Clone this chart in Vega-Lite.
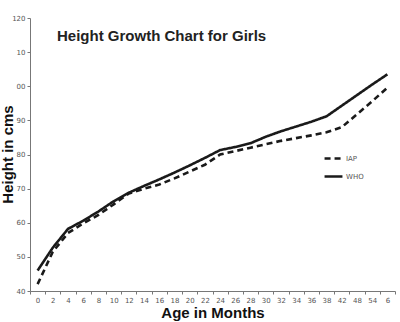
{
  "$schema": "https://vega.github.io/schema/vega-lite/v6.json",
  "width": 365,
  "height": 273,
  "autosize": {"type": "none"},
  "padding": {"left": 30, "top": 18, "right": 5, "bottom": 31},
  "background": "white",
  "title": {
    "text": "Height Growth Chart for Girls",
    "frame": "group",
    "anchor": "start",
    "dx": 27,
    "dy": 30,
    "offset": 0,
    "font": "Liberation Sans",
    "fontSize": 15,
    "fontWeight": "bold",
    "color": "#222"
  },
  "config": {
    "view": {"stroke": null},
    "font": "Liberation Sans"
  },
  "data": {
    "values": [
      {"month": 0, "series": "WHO", "height": 46},
      {"month": 2, "series": "WHO", "height": 52.7},
      {"month": 4, "series": "WHO", "height": 58.2},
      {"month": 6, "series": "WHO", "height": 60.6},
      {"month": 8, "series": "WHO", "height": 63.3},
      {"month": 10, "series": "WHO", "height": 66.3},
      {"month": 12, "series": "WHO", "height": 68.8},
      {"month": 14, "series": "WHO", "height": 70.8},
      {"month": 16, "series": "WHO", "height": 72.7},
      {"month": 18, "series": "WHO", "height": 74.7},
      {"month": 20, "series": "WHO", "height": 76.8},
      {"month": 22, "series": "WHO", "height": 79},
      {"month": 24, "series": "WHO", "height": 81.3},
      {"month": 26, "series": "WHO", "height": 82.2},
      {"month": 28, "series": "WHO", "height": 83.3},
      {"month": 30, "series": "WHO", "height": 85.2},
      {"month": 32, "series": "WHO", "height": 86.8},
      {"month": 34, "series": "WHO", "height": 88.2},
      {"month": 36, "series": "WHO", "height": 89.6},
      {"month": 38, "series": "WHO", "height": 91.2},
      {"month": 42, "series": "WHO", "height": 94.3},
      {"month": 48, "series": "WHO", "height": 97.4},
      {"month": 54, "series": "WHO", "height": 100.5},
      {"month": 60, "series": "WHO", "height": 103.5},
      {"month": 0, "series": "IAP", "height": 42},
      {"month": 2, "series": "IAP", "height": 51.5},
      {"month": 4, "series": "IAP", "height": 57},
      {"month": 6, "series": "IAP", "height": 59.8},
      {"month": 8, "series": "IAP", "height": 62.3},
      {"month": 10, "series": "IAP", "height": 65.4},
      {"month": 12, "series": "IAP", "height": 68.6},
      {"month": 14, "series": "IAP", "height": 70},
      {"month": 16, "series": "IAP", "height": 71.2},
      {"month": 18, "series": "IAP", "height": 73},
      {"month": 20, "series": "IAP", "height": 75},
      {"month": 22, "series": "IAP", "height": 77},
      {"month": 24, "series": "IAP", "height": 80},
      {"month": 26, "series": "IAP", "height": 81},
      {"month": 28, "series": "IAP", "height": 82},
      {"month": 30, "series": "IAP", "height": 83},
      {"month": 32, "series": "IAP", "height": 84},
      {"month": 34, "series": "IAP", "height": 84.8},
      {"month": 36, "series": "IAP", "height": 85.6},
      {"month": 38, "series": "IAP", "height": 86.5},
      {"month": 42, "series": "IAP", "height": 88},
      {"month": 48, "series": "IAP", "height": 91.8},
      {"month": 54, "series": "IAP", "height": 95.6},
      {"month": 60, "series": "IAP", "height": 99.6}
    ]
  },
  "mark": {"type": "line", "color": "#1a1a1a", "strokeWidth": 2.6},
  "encoding": {
    "x": {
      "field": "month",
      "type": "ordinal",
      "scale": {"type": "band", "paddingInner": 0, "paddingOuter": 0},
      "axis": {
        "title": "Age in Months",
        "titleFont": "Liberation Sans",
        "titleFontSize": 15,
        "titleFontWeight": "bold",
        "titleColor": "#111",
        "titleBaseline": "alphabetic",
        "titleY": 26.5,
        "labelAngle": 0,
        "labelFont": "DejaVu Sans",
        "labelFontSize": 7,
        "labelColor": "#555",
        "labelPadding": 2,
        "tickBand": "extent",
        "tickSize": 3,
        "tickColor": "#777",
        "domainColor": "#777",
        "labelExpr": "datum.value == 60 ? '6' : datum.label"
      }
    },
    "y": {
      "field": "height",
      "type": "quantitative",
      "scale": {"domain": [40, 120], "nice": false, "zero": false},
      "axis": {
        "title": "Height in cms",
        "titleFont": "Liberation Sans",
        "titleFontSize": 15,
        "titleFontWeight": "bold",
        "titleColor": "#111",
        "titleBaseline": "middle",
        "titleX": -23,
        "titleY": 136,
        "values": [40, 50, 60, 70, 80, 90, 100, 110, 120],
        "grid": false,
        "labelFont": "DejaVu Sans",
        "labelFontSize": 7,
        "labelColor": "#555",
        "labelPadding": 2,
        "tickSize": 3,
        "tickColor": "#777",
        "domainColor": "#777",
        "labelExpr": "datum.value == 110 ? '10' : datum.value == 100 ? '00' : datum.label"
      }
    },
    "strokeDash": {
      "field": "series",
      "type": "nominal",
      "scale": {"domain": ["IAP", "WHO"], "range": [[6, 4], [1, 0]]},
      "legend": {
        "title": null,
        "orient": "none",
        "legendX": 293,
        "legendY": 130,
        "symbolType": "stroke",
        "symbolSize": 320,
        "symbolStrokeWidth": 2.6,
        "symbolStrokeColor": "#1a1a1a",
        "labelFont": "DejaVu Sans",
        "labelFontSize": 7,
        "labelColor": "#555",
        "rowPadding": 2,
        "labelOffset": 2
      }
    }
  }
}
